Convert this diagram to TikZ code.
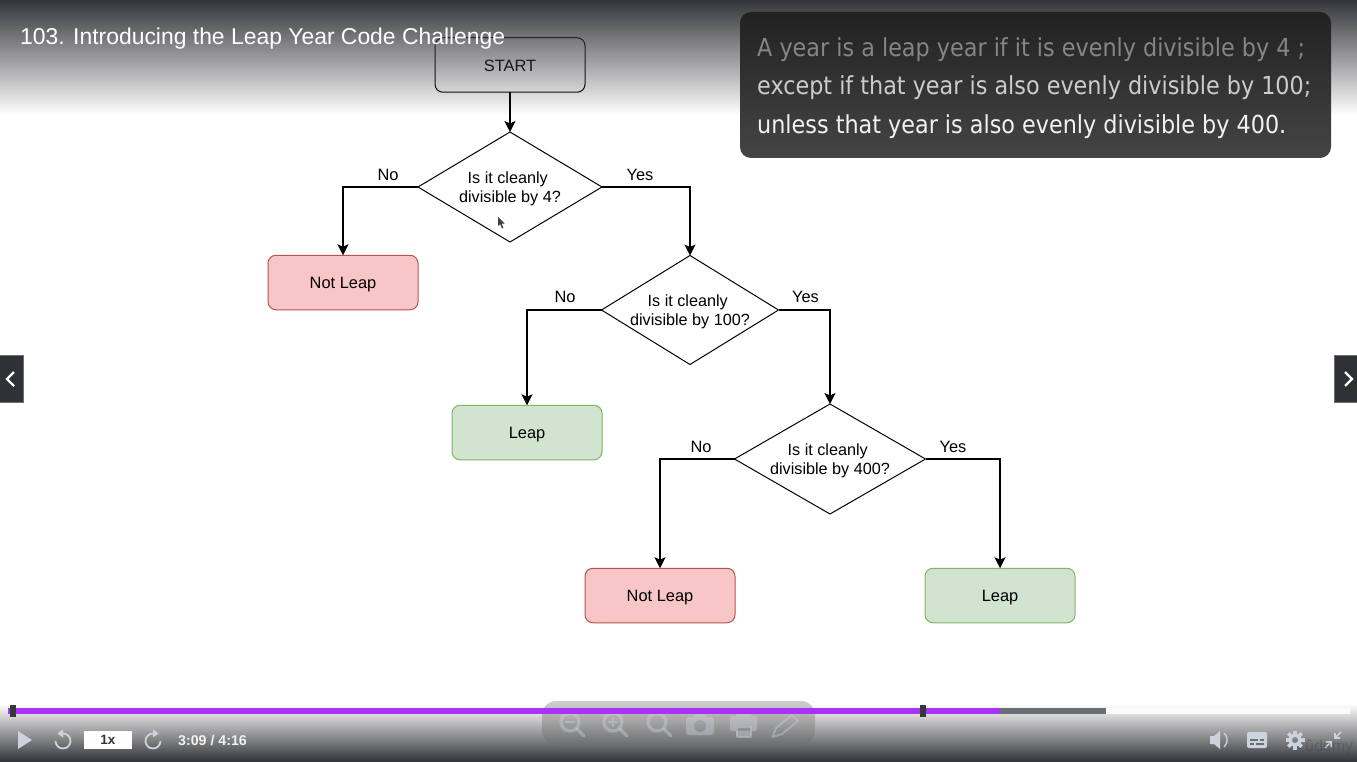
\documentclass[tikz,border=0pt]{standalone}
\usepackage{fontspec}
\setmainfont{Liberation Sans}
\newfontfamily\notefont{DejaVu Sans Condensed}
\usepackage{xcolor}
\usetikzlibrary{shapes.geometric,arrows.meta}
\tikzset{>={Stealth[length=11pt,width=11pt,inset=2.5pt]}}

\definecolor{pinkfill}{HTML}{F9C6C8}
\definecolor{pinkline}{HTML}{B85450}
\definecolor{greenfill}{HTML}{D1E4CF}
\definecolor{greenline}{HTML}{82B366}
\definecolor{bardark}{HTML}{35363A}
\definecolor{barpurple}{HTML}{A933F5}
\definecolor{bargray}{HTML}{6A7073}
\definecolor{iconlight}{HTML}{CDD3DC}

\tikzset{
  box/.style={draw, rounded corners=8pt, line width=1pt, minimum width=150pt, minimum height=54.5pt,
    inner sep=0pt, outer sep=0pt, text height=12.6pt, text depth=0pt, font=\fontsize{16.4}{19}\selectfont},
  startbox/.style={box, draw=black},
  notleap/.style={box, draw=pinkline, fill=pinkfill},
  leap/.style={box, draw=greenline, fill=greenfill},
  decision/.style={diamond, draw, line width=1pt, inner sep=0pt, outer sep=0pt,
    font=\fontsize{16.2}{19}\selectfont},
  branch/.style={font=\fontsize{16.4}{19}\selectfont, inner sep=0pt},
  link/.style={->, line width=1.1pt},
  navbtn/.style={draw=bargray, fill=bardark!90!black, line width=1pt},
  navarrow/.style={draw=white, line width=2.2pt},
  faintbtn/.style={draw=iconlight, opacity=.4, line width=3.4pt, line cap=round},
  faintfill/.style={fill=iconlight, opacity=.4},
  ctrl/.style={draw=iconlight, line width=1.8pt},
  notetext/.style={anchor=west, inner sep=0pt, font=\notefont\fontsize{24.8}{30}\selectfont}
}

\newcommand{\twolines}[2]{\makebox[0pt]{\raisebox{-6.5pt}[0pt][0pt]{\begin{tabular}{@{}c@{}}#1\hspace*{4.5pt}\\#2\end{tabular}}}}

\begin{document}
\begin{tikzpicture}[x=1pt,y=-1pt]
  \useasboundingbox (0,0) rectangle (1357,762);
  \fill[white] (0,0) rectangle (1357,762);

  % flow chart
  \node[startbox] (start) at (510,65) {START};
  \node[decision, minimum width=184pt, minimum height=110pt] (cleanfour) at (510,187) {\twolines{Is it cleanly}{divisible by 4?}};
  \node[notleap] (notleapone) at (343,282.5) {Not Leap};
  \node[decision, minimum width=177pt, minimum height=109pt] (cleanhundred) at (690,310) {\twolines{Is it cleanly}{divisible by 100?}};
  \node[leap] (leapone) at (527,432.5) {Leap};
  \node[decision, minimum width=191pt, minimum height=110pt] (cleanfourhundred) at (830,459) {\twolines{Is it cleanly}{divisible by 400?}};
  \node[notleap] (notleaptwo) at (660,595.5) {Not Leap};
  \node[leap] (leaptwo) at (1000,595.5) {Leap};

  \draw[link] (start) -- (cleanfour);
  \draw[link] (cleanfour.west) -| (notleapone.north);
  \draw[link] (cleanfour.east) -| (cleanhundred.north);
  \draw[link] (cleanhundred.west) -| (leapone.north);
  \draw[link] (cleanhundred.east) -| (cleanfourhundred.north);
  \draw[link] (cleanfourhundred.west) -| (notleaptwo.north);
  \draw[link] (cleanfourhundred.east) -| (leaptwo.north);

  \node[branch] (nofour) at (388,174.5) {No};
  \node[branch] (yesfour) at (640,174.5) {Yes};
  \node[branch] (nohundred) at (565,296.5) {No};
  \node[branch] (yeshundred) at (805.5,296.5) {Yes};
  \node[branch] (nofourhundred) at (701,446.5) {No};
  \node[branch] (yesfourhundred) at (953,446.5) {Yes};

  % mouse pointer
  \fill[black!75] (498,217) -- (498,226) -- (500.2,224.3) -- (502,228.5) -- (503.4,227.8) -- (501.6,223.8) -- (504.5,223.5) -- cycle;

  % player gradients
  \foreach \y in {0,...,114}
    {
      \pgfmathsetmacro{\fade}{1-\y/115}
      \fill[bardark, opacity=\fade] (0,\y) rectangle (1357,\y+1);
    }
  \foreach \y in {705,...,761}
    {
      \pgfmathsetmacro{\fade}{(\y-704)/57}
      \fill[bardark, opacity=\fade] (0,\y) rectangle (1357,\y+1);
    }

  \node[anchor=west, inner sep=0pt, text=white, font=\fontsize{22.9}{28}\selectfont] (title) at (20,39) {103. Introducing the Leap Year Code Challenge};

  % note panel
  \shade[top color=black!87, bottom color=black!73, rounded corners=11pt] (740,12) rectangle (1331,158);
  \node[notetext, text=white!52!black] (lineone) at (757,49.5) {A year is a leap year if it is evenly divisible by 4 ;};
  \node[notetext, text=white!80!black] (linetwo) at (757,88) {except if that year is also evenly divisible by 100;};
  \node[notetext, text=white!95!black] (linethree) at (757,126.5) {unless that year is also evenly divisible by 400.};

  % side buttons
  \draw[navbtn] (-2,355.5) rectangle (23.5,402.5);
  \draw[navarrow] (14,372) -- (7,379) -- (14,386);
  \draw[navbtn] (1334.5,355.5) rectangle (1359,402.5);
  \draw[navarrow] (1345,372) -- (1352,379) -- (1345,386);

  % tool pill
  \fill[gray!85!black, opacity=.35, rounded corners=14pt] (542,701) rectangle (815,744.5);
  \foreach \x in {570,613,657}
    {
      \draw[faintbtn] (\x,722) circle (9pt);
      \draw[faintbtn] (\x+7,729) -- (\x+14,736);
    }
  \draw[faintbtn, line width=2.5pt] (566,722) -- (574,722);
  \draw[faintbtn, line width=2.5pt] (609,722) -- (617,722) (613,718) -- (613,726);
  \fill[faintfill, rounded corners=3pt, even odd rule] (686,717) rectangle (714,735) (700,726) circle (6pt);
  \fill[faintfill] (693,717) -- (695,714) -- (705,714) -- (707,717) -- cycle;
  \fill[faintfill, rounded corners=2pt, even odd rule] (730,716) rectangle (757,731) (736,726) rectangle (751,737);
  \fill[faintfill] (736,714) rectangle (751,716);
  \draw[faintbtn, line width=1.6pt] (737,727) rectangle (751,737);
  \draw[faintbtn, line width=2pt, line join=round] (772.5,737) -- (776,728) -- (792,715) -- (798,721) -- (782,734) -- cycle;

  % progress bar
  \fill[white!97!bargray] (8,708) rectangle (1350,714);
  \fill[bargray] (8,708) rectangle (1106,714);
  \fill[barpurple] (8,708) rectangle (1000,714);
  \foreach \x in {13,923}
    \fill[bardark] (\x-3,705) rectangle (\x+3,717);

  % left controls
  \fill[iconlight] (18,731) -- (32,740) -- (18,749) -- cycle;
  \draw[ctrl] (63,733.5) arc (90:-180:7.5pt);
  \fill[iconlight] (63,729.5) -- (63,737.5) -- (57.5,733.5) -- cycle;
  \node[fill=white!97!iconlight, minimum width=48pt, minimum height=18pt, inner sep=0pt, outer sep=0pt,
    font=\bfseries\fontsize{13.5}{15}\selectfont, text=bardark] (speed) at (108,740) {1x};
  \draw[ctrl] (153,733.5) arc (90:360:7.5pt);
  \fill[iconlight] (153,729.5) -- (153,737.5) -- (158.5,733.5) -- cycle;
  \node[anchor=west, inner sep=0pt, text=white!95!black, font=\bfseries\fontsize{14.2}{15}\selectfont] (clock) at (178,740) {3:09 / 4:16};

  % right controls
  \fill[iconlight] (1210,736) -- (1214,736) -- (1220,731) -- (1220,749) -- (1214,744) -- (1210,744) -- cycle;
  \draw[ctrl, line width=1.3pt] (1224,747) arc (-50:50:9pt);
  \fill[iconlight, rounded corners=2pt] (1247,732) rectangle (1267,748);
  \draw[bardark!65!iconlight, line width=1.5pt] (1250,740) -- (1258,740) (1260,740) -- (1264,740) (1250,744) -- (1254,744) (1256,744) -- (1264,744);
  \foreach \a in {0,45,...,315}
    \draw[iconlight, line width=3.6pt] (1295,740) ++(\a:6pt) -- ++(\a:3.5pt);
  \draw[iconlight, line width=3.5pt] (1295,740) circle (5pt);
  \draw[iconlight, line width=1.6pt] (1341,732) -- (1335,738) (1335,733) -- (1335,738) -- (1340,738);
  \draw[iconlight, line width=1.6pt] (1325,748) -- (1331,742) (1331,747) -- (1331,742) -- (1326,742);
  \node[anchor=west, inner sep=0pt, text=bardark, opacity=.3, font=\fontsize{16}{18}\selectfont] (brand) at (1305,747) {ûdemy};
\end{tikzpicture}
\end{document}
